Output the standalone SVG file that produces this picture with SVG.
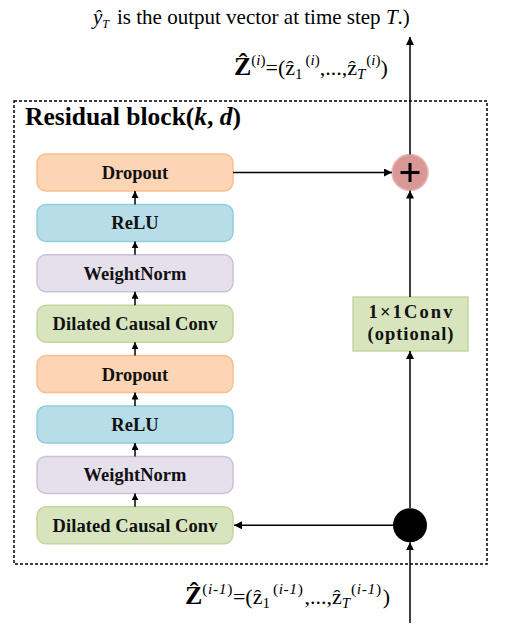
<svg xmlns="http://www.w3.org/2000/svg" width="512" height="635" viewBox="0 0 512 635">
<style>
.t{font-family:"Liberation Serif","Times New Roman",serif;fill:#000}
.lb{font-family:"Liberation Serif","Times New Roman",serif;font-weight:bold;font-size:18.5px;text-anchor:middle;fill:#111}
.ln{stroke:#000;stroke-width:1.5;fill:none}
.dr{fill:#fcd5b4;stroke:#f9bf8f;stroke-width:1.5}
.re{fill:#b7dee8;stroke:#93cddd;stroke-width:1.5}
.wn{fill:#e6e0ec;stroke:#ccc1da;stroke-width:1.5}
.dc{fill:#d7e4bd;stroke:#c3d69b;stroke-width:1.5}
.s{font-size:15px}
.s2{font-size:15.5px;letter-spacing:0.6px}
</style>
<defs>
<marker id="ah" markerWidth="8" markerHeight="8" refX="8" refY="4" orient="auto" markerUnits="userSpaceOnUse">
<path d="M0,0 L8,4 L0,8 Z" fill="#000"/>
</marker>
<marker id="as" markerWidth="7" markerHeight="7" refX="7" refY="3.5" orient="auto" markerUnits="userSpaceOnUse">
<path d="M0,0 L7,3.5 L0,7 Z" fill="#000"/>
</marker>
</defs>
<rect fill="#fff" width="512" height="635"/>

<g id="top-text">
<text class="t" x="93" y="24" font-size="21"><tspan font-style="italic">ŷ</tspan><tspan font-style="italic" font-size="12" dy="4">T</tspan><tspan dy="-4" dx="8">is the output vector at time step </tspan><tspan font-style="italic">T</tspan><tspan>.)</tspan></text>
</g>

<g id="z-out">
<text class="t" x="234" y="75" font-size="22"><tspan font-weight="bold" font-size="26">Ẑ</tspan><tspan class="s" dy="-10">(</tspan><tspan class="s" font-style="italic">i</tspan><tspan class="s">)</tspan><tspan dy="10">=(</tspan><tspan>ẑ</tspan><tspan class="s" dy="4">1</tspan><tspan class="s" dy="-14" dx="3">(</tspan><tspan class="s" font-style="italic">i</tspan><tspan class="s">)</tspan><tspan dy="10">,...,</tspan><tspan>ẑ</tspan><tspan class="s" font-style="italic" dy="4">T</tspan><tspan class="s" dy="-14" dx="1">(</tspan><tspan class="s" font-style="italic">i</tspan><tspan class="s">)</tspan><tspan dy="10">)</tspan></text>
</g>

<g id="z-in">
<text class="t" x="185" y="604" font-size="22"><tspan font-weight="bold" font-size="26">Ẑ</tspan><tspan class="s2" dy="-10">(</tspan><tspan class="s2" font-style="italic">i-1</tspan><tspan class="s2">)</tspan><tspan dy="10">=(</tspan><tspan>ẑ</tspan><tspan class="s" dy="4">1</tspan><tspan class="s2" dy="-14" dx="3">(</tspan><tspan class="s2" font-style="italic">i-1</tspan><tspan class="s2">)</tspan><tspan dy="10" dx="1">,...,</tspan><tspan>ẑ</tspan><tspan class="s" font-style="italic" dy="4">T</tspan><tspan class="s2" dy="-14" dx="1">(</tspan><tspan class="s2" font-style="italic">i-1</tspan><tspan class="s2">)</tspan><tspan dy="10" dx="1">)</tspan></text>
</g>

<g id="residual-block">
<rect x="14" y="101" width="473" height="463" fill="none" stroke="#000" stroke-width="1.5" stroke-dasharray="3,2"/>
<text class="t" x="25" y="125" font-size="25.5" font-weight="bold">Residual block(<tspan font-style="italic">k</tspan>, <tspan font-style="italic">d</tspan>)</text>
</g>

<g id="dropout2"><rect class="dr" x="37" y="154" width="196" height="37" rx="9"/><text class="lb" x="135" y="179">Dropout</text></g>
<g id="relu2"><rect class="re" x="37" y="204.4" width="196" height="37" rx="9"/><text class="lb" x="135" y="229.4">ReLU</text></g>
<g id="weightnorm2"><rect class="wn" x="37" y="254.8" width="196" height="37" rx="9"/><text class="lb" x="135" y="279.8">WeightNorm</text></g>
<g id="dilated2"><rect class="dc" x="37" y="305.2" width="196" height="37" rx="9"/><text class="lb" x="135" y="330.2" textLength="165" lengthAdjust="spacing">Dilated Causal Conv</text></g>
<g id="dropout1"><rect class="dr" x="37" y="355.6" width="196" height="37" rx="9"/><text class="lb" x="135" y="380.6">Dropout</text></g>
<g id="relu1"><rect class="re" x="37" y="406" width="196" height="37" rx="9"/><text class="lb" x="135" y="431">ReLU</text></g>
<g id="weightnorm1"><rect class="wn" x="37" y="456.4" width="196" height="37" rx="9"/><text class="lb" x="135" y="481.4">WeightNorm</text></g>
<g id="dilated1"><rect class="dc" x="37" y="506.8" width="196" height="37" rx="9"/><text class="lb" x="135" y="531.8" textLength="165" lengthAdjust="spacing">Dilated Causal Conv</text></g>

<g id="conv1x1"><rect class="dc" x="353" y="297" width="115" height="54"/>
<text class="lb" x="410.5" y="318" textLength="84" lengthAdjust="spacing">1×1Conv</text>
<text class="lb" x="410.5" y="340" textLength="86" lengthAdjust="spacing">(optional)</text></g>

<g id="add"><circle cx="410" cy="172.5" r="18" fill="#d99795" stroke="#e6b9b8" stroke-width="1.5"/>
<path d="M400.5,172.5 H419.5 M410,163 V182" stroke="#000" stroke-width="3"/></g>

<g id="split"><circle cx="410" cy="525.3" r="17" fill="#000"/></g>

<g id="connectors">
<line class="ln" x1="135" y1="204.4" x2="135" y2="191" marker-end="url(#as)"/>
<line class="ln" x1="135" y1="254.8" x2="135" y2="241.4" marker-end="url(#as)"/>
<line class="ln" x1="135" y1="305.2" x2="135" y2="291.8" marker-end="url(#as)"/>
<line class="ln" x1="135" y1="355.6" x2="135" y2="342.2" marker-end="url(#as)"/>
<line class="ln" x1="135" y1="406" x2="135" y2="392.6" marker-end="url(#as)"/>
<line class="ln" x1="135" y1="456.4" x2="135" y2="443" marker-end="url(#as)"/>
<line class="ln" x1="135" y1="506.8" x2="135" y2="493.4" marker-end="url(#as)"/>
<line class="ln" x1="410" y1="623" x2="410" y2="542.3" marker-end="url(#ah)"/>
<line class="ln" x1="410" y1="525.3" x2="234" y2="525.3" marker-end="url(#ah)"/>
<line class="ln" x1="410" y1="508" x2="410" y2="351" marker-end="url(#ah)"/>
<line class="ln" x1="410" y1="297" x2="410" y2="190.5" marker-end="url(#ah)"/>
<line class="ln" x1="233" y1="172.5" x2="392" y2="172.5" marker-end="url(#ah)"/>
<line class="ln" x1="410" y1="154.5" x2="410" y2="37" marker-end="url(#ah)"/>
</g>
</svg>
